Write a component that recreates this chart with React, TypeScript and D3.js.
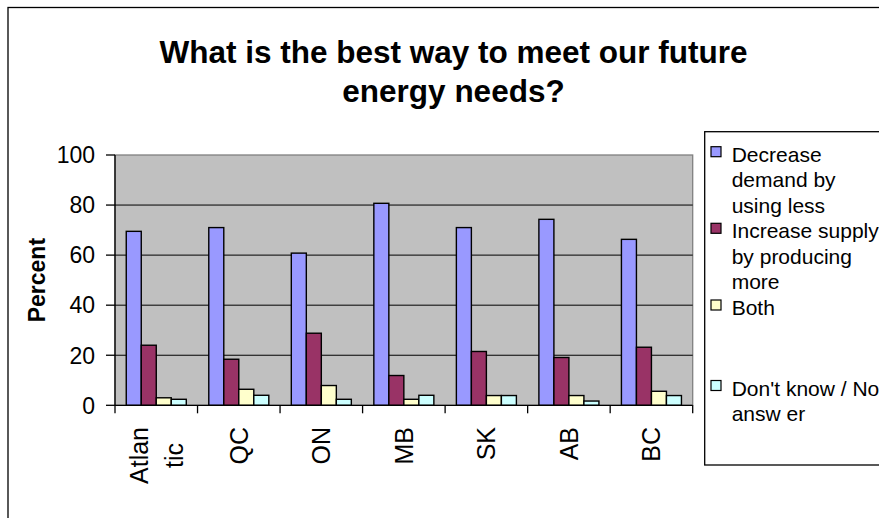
import { useEffect, useRef } from 'react'
import * as d3 from 'd3'

const CATEGORIES = ['Atlantic', 'QC', 'ON', 'MB', 'SK', 'AB', 'BC']
const CATEGORY_LINES: string[][] = [['Atlan', 'tic'], ['QC'], ['ON'], ['MB'], ['SK'], ['AB'], ['BC']]

const DECREASE = [69.5, 71, 60.8, 80.7, 71, 74.3, 66.3]
const INCREASE = [24, 18.4, 28.8, 11.9, 21.5, 19.1, 23.2]
const BOTH = [3, 6.4, 7.9, 2.4, 3.9, 3.9, 5.6]
const DONT_KNOW = [2.4, 4, 2.4, 4, 3.9, 1.7, 3.9]

const SERIES_NAMES = ['Decrease demand by using less', 'Increase supply by producing more', 'Both', "Don't know / No answer"]
const LEGEND_LINES: string[][] = [
  ['Decrease', 'demand by', 'using less'],
  ['Increase supply', 'by producing', 'more'],
  ['Both'],
  ["Don't know / No", 'answ er'],
]
const SERIES_COLORS = ['#9999ff', '#993366', '#ffffcc', '#ccffff']
const Y_TICKS = [0, 20, 40, 60, 80, 100]

const TITLE_LINES = ['What is the best way to meet our future', 'energy needs?']
const FONT = 'Arial, "Liberation Sans", sans-serif'

const PLOT = { left: 115, right: 692.7, top: 155, bottom: 405.3 }

export default function App() {
  const svgRef = useRef<SVGSVGElement | null>(null)

  useEffect(() => {
    if (!svgRef.current) {
      return
    }
    const svg = d3.select(svgRef.current)
    svg.selectAll('*').remove()

    const series = [DECREASE, INCREASE, BOTH, DONT_KNOW]

    const x = d3.scaleBand<string>().domain(CATEGORIES).range([PLOT.left, PLOT.right])
    const inner = d3
      .scaleBand<number>()
      .domain(d3.range(series.length))
      .range([0, x.bandwidth()])
      .paddingInner(0)
      .paddingOuter(0.75)
    const y = d3.scaleLinear().domain([0, 100]).range([PLOT.bottom, PLOT.top])

    // outer chart border
    svg
      .append('rect')
      .attr('x', 8)
      .attr('y', 7.5)
      .attr('width', 1200)
      .attr('height', 1200)
      .attr('fill', '#fff')
      .attr('stroke', '#000')
      .attr('stroke-width', 1.3)

    svg
      .append('g')
      .selectAll('text')
      .data(TITLE_LINES)
      .enter()
      .append('text')
      .attr('x', 453.5)
      .attr('y', (_: string, i: number) => 62.5 + i * 39)
      .attr('text-anchor', 'middle')
      .attr('font-family', FONT)
      .attr('font-size', 31.5)
      .attr('font-weight', 700)
      .attr('fill', '#000')
      .text((d: string) => d)

    // plot area
    svg
      .append('rect')
      .attr('x', PLOT.left)
      .attr('y', PLOT.top)
      .attr('width', PLOT.right - PLOT.left)
      .attr('height', PLOT.bottom - PLOT.top)
      .attr('fill', '#c0c0c0')
      .attr('stroke', '#808080')
      .attr('stroke-width', 1.3)

    svg
      .append('g')
      .selectAll('line')
      .data(Y_TICKS.filter((t) => t > 0 && t < 100))
      .enter()
      .append('line')
      .attr('x1', PLOT.left)
      .attr('x2', PLOT.right)
      .attr('y1', (d: number) => y(d))
      .attr('y2', (d: number) => y(d))
      .attr('stroke', '#000')
      .attr('stroke-width', 1)

    series.forEach((values, si) => {
      svg
        .append('g')
        .selectAll('rect')
        .data(values)
        .enter()
        .append('rect')
        .attr('x', (_: number, i: number) => (x(CATEGORIES[i]) ?? 0) + (inner(si) ?? 0))
        .attr('y', (d: number) => y(d))
        .attr('width', inner.bandwidth())
        .attr('height', (d: number) => y(0) - y(d))
        .attr('fill', SERIES_COLORS[si])
        .attr('stroke', '#000')
        .attr('stroke-width', 1.4)
        .append('title')
        .text((d: number) => `${SERIES_NAMES[si]}: ${d}`)
    })

    // y axis
    const yAxis = svg.append('g')
    yAxis
      .append('line')
      .attr('x1', PLOT.left)
      .attr('x2', PLOT.left)
      .attr('y1', PLOT.top)
      .attr('y2', PLOT.bottom)
      .attr('stroke', '#000')
      .attr('stroke-width', 1.3)
    yAxis
      .selectAll('line.tick')
      .data(Y_TICKS)
      .enter()
      .append('line')
      .attr('class', 'tick')
      .attr('x1', PLOT.left - 9)
      .attr('x2', PLOT.left)
      .attr('y1', (d: number) => y(d))
      .attr('y2', (d: number) => y(d))
      .attr('stroke', '#000')
      .attr('stroke-width', 1.3)
    yAxis
      .selectAll('text')
      .data(Y_TICKS)
      .enter()
      .append('text')
      .attr('x', 95)
      .attr('y', (d: number) => y(d))
      .attr('dy', '0.36em')
      .attr('text-anchor', 'end')
      .attr('font-family', FONT)
      .attr('font-size', 23)
      .attr('fill', '#000')
      .text((d: number) => d)

    svg
      .append('text')
      .attr('transform', `translate(45, ${(PLOT.top + PLOT.bottom) / 2}) rotate(-90)`)
      .attr('text-anchor', 'middle')
      .attr('font-family', FONT)
      .attr('font-size', 23)
      .attr('font-weight', 700)
      .attr('fill', '#000')
      .text('Percent')

    // x axis
    const xAxis = svg.append('g')
    xAxis
      .append('line')
      .attr('x1', PLOT.left)
      .attr('x2', PLOT.right)
      .attr('y1', PLOT.bottom)
      .attr('y2', PLOT.bottom)
      .attr('stroke', '#000')
      .attr('stroke-width', 1.3)
    const boundaries = [...CATEGORIES.map((c) => x(c) ?? 0), PLOT.right]
    xAxis
      .selectAll('line.tick')
      .data(boundaries)
      .enter()
      .append('line')
      .attr('class', 'tick')
      .attr('x1', (d: number) => d)
      .attr('x2', (d: number) => d)
      .attr('y1', PLOT.bottom)
      .attr('y2', PLOT.bottom + 8)
      .attr('stroke', '#000')
      .attr('stroke-width', 1.3)

    const labelGroups = xAxis
      .selectAll('g.cat')
      .data(CATEGORIES)
      .enter()
      .append('g')
      .attr('class', 'cat')
      .attr('transform', (d: string) => `translate(${(x(d) ?? 0) + x.bandwidth() / 2}, 427) rotate(-90)`)

    labelGroups.each(function (this: SVGGElement, _d: string, i: number) {
      const lines = CATEGORY_LINES[i]
      const g = d3.select(this)
      const lineGap = 35
      const longest = d3.max(lines, (l) => l.length) ?? 1
      lines.forEach((line, li) => {
        const offset = (li - (lines.length - 1) / 2) * lineGap
        g.append('text')
          .attr('x', line.length === longest ? 0 : -28.5)
          .attr('y', offset)
          .attr('dy', '0.36em')
          .attr('text-anchor', line.length === longest ? 'end' : 'middle')
          .attr('font-family', FONT)
          .attr('font-size', 25)
          .attr('fill', '#000')
          .text(line)
      })
    })

    // legend
    const legend = svg.append('g')
    legend
      .append('rect')
      .attr('x', 704.7)
      .attr('y', 131.7)
      .attr('width', 400)
      .attr('height', 465 - 131.7)
      .attr('fill', '#fff')
      .attr('stroke', '#000')
      .attr('stroke-width', 1.3)

    const entryBaselines = [161.7, 238.3, 315, 395.5]
    LEGEND_LINES.forEach((lines, si) => {
      const base = entryBaselines[si]
      legend
        .append('rect')
        .attr('x', 711)
        .attr('y', base - 15)
        .attr('width', 10)
        .attr('height', 10)
        .attr('fill', SERIES_COLORS[si])
        .attr('stroke', '#000')
        .attr('stroke-width', 1.2)
      lines.forEach((line, li) => {
        legend
          .append('text')
          .attr('x', 731.7)
          .attr('y', base + li * 25.5)
          .attr('font-family', FONT)
          .attr('font-size', 21)
          .attr('fill', '#000')
          .text(line)
      })
    })
  }, [])

  return (
    <svg
      ref={svgRef}
      width={879}
      height={518}
      style={{ position: 'absolute', left: 0, top: 0 }}
      role="img"
      aria-label="What is the best way to meet our future energy needs? Clustered bar chart by region"
    />
  )
}
